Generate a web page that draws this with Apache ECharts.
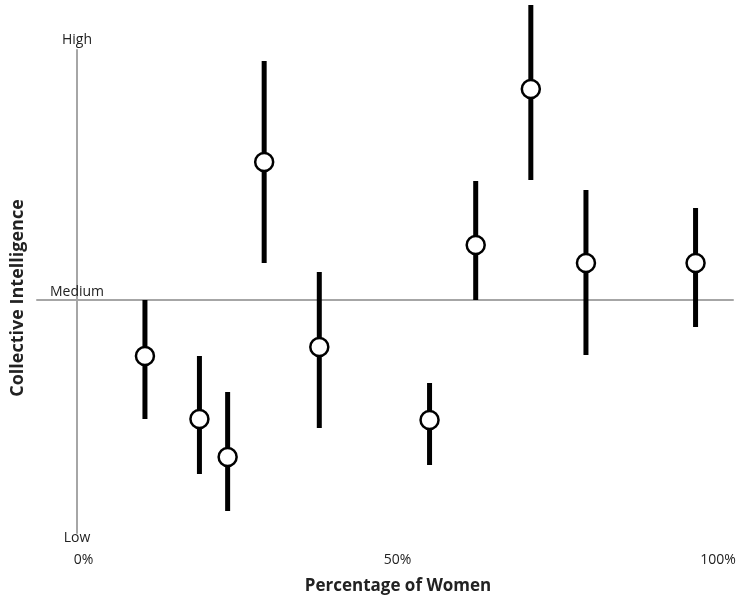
<!DOCTYPE html>
<html>
<head>
<meta charset="utf-8">
<script src="https://cdn.jsdelivr.net/npm/echarts@6/dist/echarts.min.js"></script>
<style>
html,body{margin:0;padding:0;background:#fff;}
#main{width:740px;height:595px;}
</style>
</head>
<body>
<div id="main"></div>
<script>
// percentage of women in the group
var pctWomen = [10.6, 19.1, 23.5, 29.2, 37.8, 55.0, 62.2, 70.8, 79.4, 96.5];
// collective intelligence score, 0 = medium
var ciMean = [-0.56, -1.19, -1.57, 1.38, -0.47, -1.20, 0.55, 2.11, 0.37, 0.37];
var ciHigh = [0.00, -0.56, -0.92, 2.39, 0.28, -0.83, 1.19, 2.95, 1.10, 0.92];
var ciLow = [-1.19, -1.74, -2.11, 0.37, -1.28, -1.65, 0.00, 1.20, -0.55, -0.27];

var xTicks = [0, 50, 100];
var yTickValues = [-2.33, 0, 2.5];
var yTickLabels = ['Low', 'Medium', 'High'];

var X_MIN = -6.24, X_MAX = 102.34;
var FONT = 'Open Sans';
var AXIS_GREY = '#a6a6a6';

var bars = pctWomen.map(function (x, i) { return [x, ciLow[i], ciHigh[i]]; });
var points = pctWomen.map(function (x, i) { return [x, ciMean[i]]; });

var chart = echarts.init(document.getElementById('main'));
chart.setOption({
  animation: false,
  grid: { left: 37, right: 7, top: 50, bottom: 62, outerBoundsMode: 'none', containLabel: false },
  xAxis: [
    {
      type: 'value', min: X_MIN, max: X_MAX,
      axisLine: { onZero: true, lineStyle: { color: AXIS_GREY, width: 2 } },
      axisTick: { show: false }, axisLabel: { show: false }, splitLine: { show: false }
    },
    {
      type: 'value', position: 'bottom', min: X_MIN, max: X_MAX,
      axisLine: { show: false, onZero: false }, axisTick: { show: false }, splitLine: { show: false },
      axisLabel: {
        customValues: xTicks, margin: 20,
        formatter: function (v) { return v === 0 ? '{first|0%}' : '{t|' + v + '%}'; },
        rich: {
          first: { fontFamily: FONT, fontSize: 14, color: '#222', padding: [0, 0, 0, 13] },
          t: { fontFamily: FONT, fontSize: 14, color: '#222' }
        }
      },
      name: 'Percentage of Women', nameLocation: 'middle', nameGap: 45,
      nameTextStyle: { fontFamily: FONT, fontSize: 17, fontWeight: 'bold', color: '#222', padding: [0, 0, 0, 26] }
    }
  ],
  yAxis: {
    type: 'value', min: yTickValues[0], max: yTickValues[2],
    axisLine: { onZero: true, lineStyle: { color: AXIS_GREY, width: 2 } },
    axisTick: { show: false }, splitLine: { show: false },
    axisLabel: {
      customValues: yTickValues, margin: -40, align: 'center',
      formatter: function (v) {
        var i = yTickValues.indexOf(v);
        var key = ['lo', 'mid', 'hi'][i];
        return '{' + key + '|' + yTickLabels[i] + '}';
      },
      rich: {
        lo: { fontFamily: FONT, fontSize: 14, color: '#222', padding: [10, 0, 0, 0] },
        mid: { fontFamily: FONT, fontSize: 14, color: '#222', padding: [0, 0, 16, 0] },
        hi: { fontFamily: FONT, fontSize: 14, color: '#222', padding: [0, 0, 20, 0] }
      }
    },
    name: 'Collective Intelligence', nameLocation: 'middle', nameGap: 10,
    nameTextStyle: { fontFamily: FONT, fontSize: 18, fontWeight: 'bold', color: '#222', padding: [0, 13, 0, 0] }
  },
  series: [
    {
      type: 'custom', xAxisIndex: 0, data: bars, z: 3,
      renderItem: function (params, api) {
        var top = api.coord([api.value(0), api.value(2)]);
        var bot = api.coord([api.value(0), api.value(1)]);
        return {
          type: 'rect',
          shape: { x: top[0] - 2.5, y: top[1], width: 5, height: bot[1] - top[1] },
          style: { fill: '#000' }
        };
      }
    },
    {
      type: 'scatter', xAxisIndex: 0, data: points, z: 4,
      symbol: 'circle', symbolSize: 18,
      itemStyle: { color: '#fff', borderColor: '#000', borderWidth: 2.5, opacity: 1 }
    }
  ]
});
</script>
</body>
</html>
